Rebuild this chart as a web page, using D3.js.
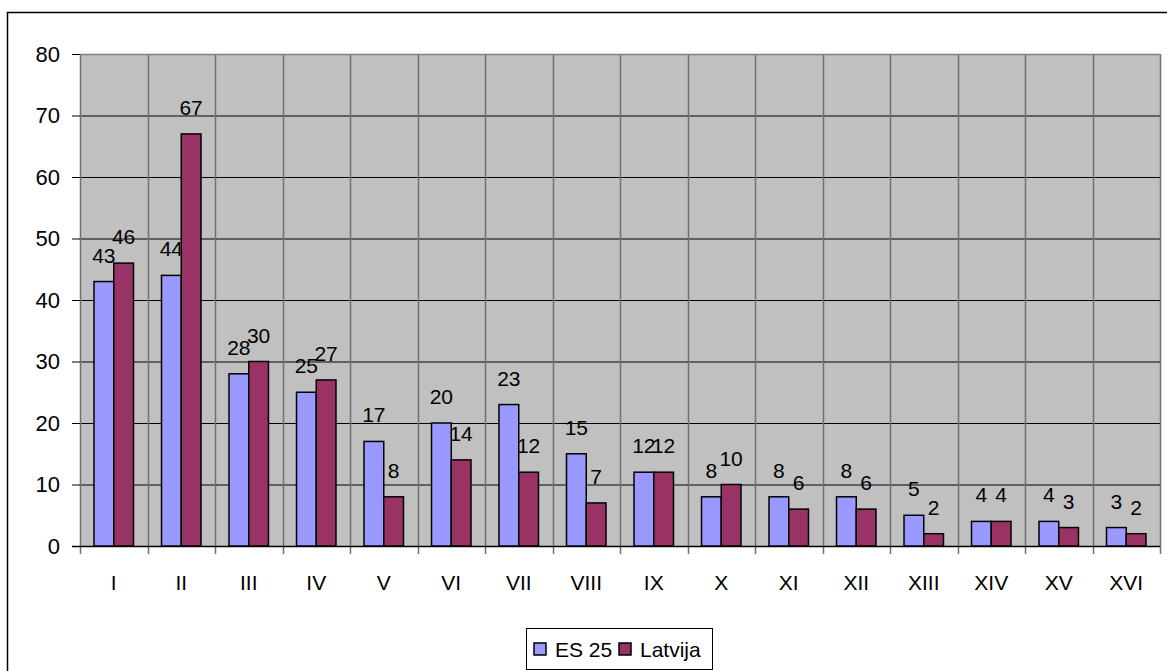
<!DOCTYPE html>
<html>
<head>
<meta charset="utf-8">
<script src="https://cdn.jsdelivr.net/npm/d3@7"></script>
<style>
  body { margin: 0; background: #fff; }
  svg text { font-family: "Liberation Sans", Arial, sans-serif; fill: #000; }
</style>
</head>
<body>
<div id="canvas"></div>
<script>
// data
var categories = ['I','II','III','IV','V','VI','VII','VIII','IX','X','XI','XII','XIII','XIV','XV','XVI'];
var seriesNames = ['ES 25', 'Latvija'];
var es25 = [43, 44, 28, 25, 17, 20, 23, 15, 12, 8, 8, 8, 5, 4, 4, 3];
var latvija = [46, 67, 30, 27, 8, 14, 12, 7, 12, 10, 6, 6, 2, 4, 3, 2];
var yTicks = [0, 10, 20, 30, 40, 50, 60, 70, 80];
var colors = ['#9999FF', '#993366'];

var W = 1167, H = 671;
var m = {t:54, r:7, b:125, l:80},
    w = W - m.l - m.r,
    h = H - m.t - m.b;

var svg = d3.select('#canvas').append('svg')
    .attr('width', W).attr('height', H);

// outer chart border (runs off right and bottom edges)
svg.append('rect')
    .attr('x', 7.5).attr('y', 12.5)
    .attr('width', W + 20).attr('height', H + 20)
    .attr('fill', 'none').attr('stroke', '#000').attr('stroke-width', 1.5);

var plot = svg.append('g').attr('transform', 'translate(' + m.l + ',' + m.t + ')');

var x0 = d3.scaleBand().domain(categories).range([0, w]);
var x1 = d3.scaleBand().domain(seriesNames).range([0, x0.bandwidth()]).paddingOuter(0.71);
var y = d3.scaleLinear().domain([0, 80]).range([h, 0]);

// plot background
plot.append('rect').attr('width', w).attr('height', h).attr('fill', '#C0C0C0');

// horizontal gridlines
plot.selectAll('.hgrid').data(yTicks).enter().append('line')
    .attr('x1', 0).attr('x2', w)
    .attr('y1', function(d){ return y(d) + 0.5; })
    .attr('y2', function(d){ return y(d) + 0.5; })
    .attr('stroke', '#000').attr('stroke-width', 1);

// vertical gridlines at category boundaries
var bounds = categories.map(function(c){ return x0(c); }).concat([w]);
plot.selectAll('.vgrid').data(bounds).enter().append('line')
    .attr('x1', function(d){ return Math.round(d) + 0.5; })
    .attr('x2', function(d){ return Math.round(d) + 0.5; })
    .attr('y1', 0).attr('y2', h + 8)
    .attr('stroke', '#707070').attr('stroke-width', 1.5);

// top border of plot area
plot.append('line').attr('x1', 0).attr('x2', w).attr('y1', 0.5).attr('y2', 0.5)
    .attr('stroke', '#808080').attr('stroke-width', 1.5);

// y axis ticks + labels
var yAxis = d3.axisLeft(y).tickValues(yTicks).tickSize(8).tickPadding(12);
var ga = plot.append('g').call(yAxis);
ga.select('.domain').remove();
ga.selectAll('line').attr('stroke', '#000');
ga.selectAll('text').style('font-size', '22px')
    .style('font-family', '"Liberation Sans", Arial, sans-serif');

// bottom axis line
plot.append('line').attr('x1', -8).attr('x2', w).attr('y1', h + 0.5).attr('y2', h + 0.5)
    .attr('stroke', '#000').attr('stroke-width', 1.5);

// bars
var rows = categories.map(function(c, i){ return {cat: c, vals: [es25[i], latvija[i]]}; });
var groups = plot.selectAll('.grp').data(rows).enter().append('g')
    .attr('transform', function(d){ return 'translate(' + x0(d.cat) + ',0)'; });

groups.selectAll('rect').data(function(d){
        return d.vals.map(function(v, k){ return {s: seriesNames[k], v: v, k: k}; });
    }).enter().append('rect')
    .attr('x', function(d){ return x1(d.s); })
    .attr('width', x1.bandwidth())
    .attr('y', function(d){ return y(d.v); })
    .attr('height', function(d){ return h - y(d.v); })
    .attr('fill', function(d){ return colors[d.k]; })
    .attr('stroke', '#000').attr('stroke-width', 1.5);

// value labels
groups.selectAll('.lbl').data(function(d){
        return d.vals.map(function(v, k){ return {s: seriesNames[k], v: v, k: k}; });
    }).enter().append('text')
    .attr('x', function(d){ return x1(d.s) + x1.bandwidth() / 2; })
    .attr('y', function(d){ return y(d.v) - 19; })
    .attr('text-anchor', 'middle')
    .style('font-size', '21px')
    .text(function(d){ return d.v; });

// category labels
plot.selectAll('.xl').data(categories).enter().append('text')
    .attr('x', function(d){ return x0(d) + x0.bandwidth() / 2; })
    .attr('y', h + 44)
    .attr('text-anchor', 'middle')
    .style('font-size', '21px')
    .text(function(d){ return d; });

// legend
var lg = svg.append('g').attr('transform', 'translate(526,628)');
lg.append('rect').attr('x', 0.5).attr('y', 0.5).attr('width', 186).attr('height', 41)
    .attr('fill', '#fff').attr('stroke', '#000').attr('stroke-width', 1);
var legendX = [8, 93];
seriesNames.forEach(function(s, k){
    lg.append('rect').attr('x', legendX[k]).attr('y', 15).attr('width', 12).attr('height', 12)
        .attr('fill', colors[k]).attr('stroke', '#000').attr('stroke-width', 1.5);
    lg.append('text').attr('x', legendX[k] + 21).attr('y', 29)
        .style('font-size', '21px').text(s);
});
</script>
</body>
</html>
